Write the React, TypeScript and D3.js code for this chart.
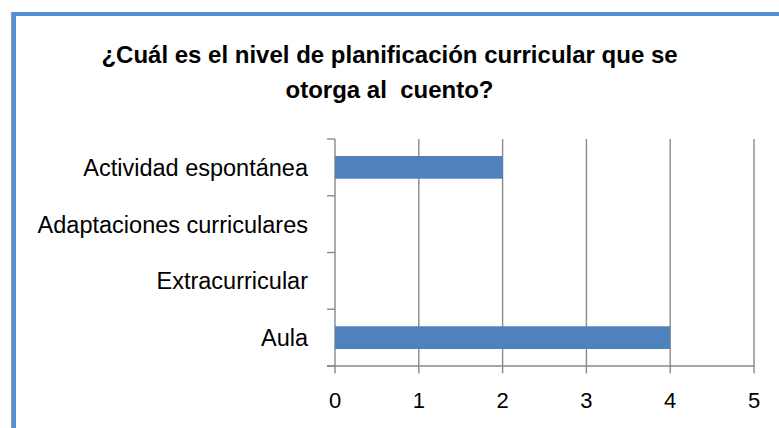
import React from "react";
import * as d3 from "d3";

const categories = ["Actividad espontánea", "Adaptaciones curriculares", "Extracurricular", "Aula"];
const values = [2, 0, 0, 4];
const xTicks = [0, 1, 2, 3, 4, 5];
const titleLines = ["¿Cuál es el nivel de planificación curricular que se", "otorga al  cuento?"];

const W = 779;
const H = 428;
const plot = { left: 335, right: 754, top: 139, bottom: 366 };
const GRID = "#898989";
const BAR = "#4F81BD";
const FONT = "'Liberation Sans', Arial, sans-serif";

export default function App() {
  const x = d3.scaleLinear().domain([0, 5]).range([plot.left, plot.right]);
  const y = d3
    .scaleBand<string>()
    .domain(categories)
    .range([plot.top, plot.bottom])
    .paddingInner(0.6)
    .paddingOuter(0.3);
  const step = y.step();
  const boundaries = d3.range(categories.length + 1).map((i) => plot.top + i * step);

  return (
    <svg
      width={W}
      height={H}
      style={{ position: "absolute", left: 0, top: 0, background: "#fff" }}
    >
      <rect x={0} y={0} width={W} height={H} fill="#fff" />
      {/* chart border (cropped at right/bottom) */}
      <line x1={11.5} y1={12} x2={11.5} y2={H} stroke="#9a9a9a" strokeWidth={1.2} />
      <rect x={14} y={14} width={W + 20} height={H + 20} fill="none" stroke="#558ED5" strokeWidth={4} />

      {/* title */}
      <text fontFamily={FONT} fontWeight="bold" fontSize={24} textAnchor="middle" fill="#000" style={{ whiteSpace: "pre" }}>
        {titleLines.map((t, i) => (
          <tspan key={i} x={W / 2} y={63 + i * 35}>
            {t}
          </tspan>
        ))}
      </text>

      {/* vertical gridlines */}
      {xTicks.map((t) => (
        <line
          key={"g" + t}
          x1={x(t)}
          x2={x(t)}
          y1={plot.top}
          y2={plot.bottom + 7.5}
          stroke={GRID}
          strokeWidth={1.4}
        />
      ))}
      {/* category boundary ticks */}
      {boundaries.map((b, i) => (
        <line key={"b" + i} x1={plot.left - 8} x2={plot.left} y1={b} y2={b} stroke={GRID} strokeWidth={1.4} />
      ))}
      {/* x axis line */}
      <line x1={plot.left - 8} x2={plot.right} y1={plot.bottom} y2={plot.bottom} stroke={GRID} strokeWidth={1.4} />

      {/* bars */}
      {categories.map((c, i) =>
        values[i] > 0 ? (
          <rect
            key={"bar" + c}
            x={x(0)}
            y={y(c)}
            width={x(values[i]) - x(0)}
            height={y.bandwidth()}
            fill={BAR}
          />
        ) : null
      )}

      {/* category labels */}
      {categories.map((c) => (
        <text
          key={"l" + c}
          x={308}
          y={(y(c) as number) + y.bandwidth() / 2}
          dy="0.36em"
          textAnchor="end"
          fontFamily={FONT}
          fontSize={23.5}
          fill="#000"
        >
          {c}
        </text>
      ))}

      {/* x tick labels */}
      {xTicks.map((t) => (
        <text key={"t" + t} x={x(t)} y={408} textAnchor="middle" fontFamily={FONT} fontSize={22} fill="#000">
          {t}
        </text>
      ))}
    </svg>
  );
}
